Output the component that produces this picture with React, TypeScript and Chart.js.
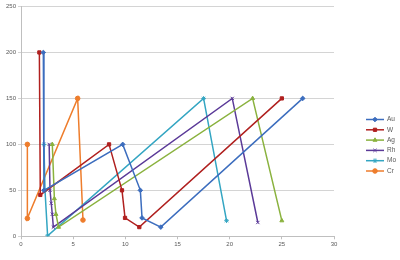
import React, { useEffect, useRef } from "react";
import { Chart, registerables } from "chart.js";
import { drawPoint } from "chart.js/helpers";

Chart.register(...registerables);

const seriesNames = ["Au", "W", "Ag", "Rh", "Mo", "Cr"];
const seriesColors = ["#3c6dbe", "#b0201f", "#8ab23e", "#5b3a98", "#33a5c2", "#ee7d2c"];
const seriesMarkers = ["rectRot", "rect", "triangle", "crossRot", "star", "circle"];

const auX = [2.14, 2.2, 9.75, 11.44, 11.6, 13.4, 27.0];
const auY = [200, 50, 100, 50, 20, 10, 150];
const wX = [1.76, 1.85, 8.44, 9.68, 9.97, 11.34, 25.0];
const wY = [200, 45, 100, 50, 20, 10, 150];
const agX = [3.0, 3.2, 3.35, 3.6, 22.2, 25.0];
const agY = [100, 41, 24, 10, 150, 17];
const rhX = [2.7, 2.78, 2.9, 3.0, 3.1, 20.25, 22.7];
const rhY = [100, 50, 36, 24, 10, 150, 15];
const moX = [2.2, 2.3, 2.55, 17.5, 19.7];
const moY = [100, 50, 0.5, 150, 17];
const crX = [0.61, 0.61, 5.43, 5.94];
const crY = [100, 19.5, 150, 17.7];

const xTicks = [0, 5, 10, 15, 20, 25, 30];
const yTicks = [0, 50, 100, 150, 200, 250];

const seriesX = [auX, wX, agX, rhX, moX, crX];
const seriesY = [auY, wY, agY, rhY, moY, crY];

export default function App() {
  const ref = useRef<HTMLCanvasElement>(null);
  useEffect(() => {
    if (!ref.current) return;
    const datasets = seriesNames.map((name, i) => ({
      label: name,
      data: seriesX[i].map((x, j) => ({ x, y: seriesY[i][j] })),
      showLine: true,
      borderColor: seriesColors[i],
      backgroundColor: seriesColors[i],
      pointBorderColor: seriesColors[i],
      pointBackgroundColor: seriesColors[i],
      borderWidth: 1.5,
      pointRadius: 2.3,
      pointBorderWidth: 1,
      pointStyle: seriesMarkers[i],
      tension: 0,
    }));
    const chart = new Chart(ref.current, {
      type: "scatter",
      data: { datasets },
      options: {
        animation: false,
        responsive: false,
        layout: { padding: { left: 0, right: 66, top: 6.5, bottom: 0 } },
        plugins: { legend: { display: false }, tooltip: { enabled: false } },
        scales: {
          x: {
            type: "linear",
            min: 0,
            max: 30,
            afterBuildTicks: (s: any) => {
              s.ticks = xTicks.map((v) => ({ value: v }));
            },
            afterFit: (s: any) => {
              s.height = 23.7;
            },
            grid: {
              drawOnChartArea: false,
              drawTicks: true,
              tickLength: 3,
              color: "#bfbfbf",
            },
            border: { color: "#bfbfbf", width: 1 },
            ticks: {
              padding: 1,
              color: "#595959",
              font: { size: 6, family: "'Liberation Sans', Arial, sans-serif" },
            },
          },
          y: {
            type: "linear",
            min: 0,
            max: 250,
            afterBuildTicks: (s: any) => {
              s.ticks = yTicks.map((v) => ({ value: v }));
            },
            afterFit: (s: any) => {
              s.width = 21;
            },
            grid: {
              drawTicks: true,
              tickLength: 3,
              color: "#d4d4d4",
              lineWidth: 1,
            },
            border: { color: "#bfbfbf", width: 1 },
            ticks: {
              padding: 2,
              color: "#595959",
              font: { size: 6, family: "'Liberation Sans', Arial, sans-serif" },
            },
          },
        },
      },
      plugins: [
        {
          id: "sideLegend",
          afterDraw(c: any) {
            const ctx = c.ctx;
            ctx.save();
            c.data.datasets.forEach((ds: any, i: number) => {
              const y = 119.5 + i * 10.3;
              ctx.strokeStyle = ds.borderColor;
              ctx.fillStyle = ds.backgroundColor;
              ctx.lineWidth = 1.5;
              ctx.beginPath();
              ctx.moveTo(366, y);
              ctx.lineTo(384, y);
              ctx.stroke();
              ctx.lineWidth = 1;
              drawPoint(ctx, { pointStyle: ds.pointStyle, radius: 2.3, borderWidth: 1, rotation: 0 } as any, 375, y);
              ctx.fillStyle = "#595959";
              ctx.font = "6.5px 'Liberation Sans', Arial, sans-serif";
              ctx.textBaseline = "middle";
              ctx.textAlign = "left";
              ctx.fillText(ds.label, 387, y);
            });
            ctx.restore();
          },
        },
      ],
    });
    return () => chart.destroy();
  }, []);
  return (
    <div style={{ position: "fixed", left: 0, top: 0, width: 400, height: 260, background: "#fff" }}>
      <canvas ref={ref} width={400} height={260} style={{ width: 400, height: 260 }} />
    </div>
  );
}
